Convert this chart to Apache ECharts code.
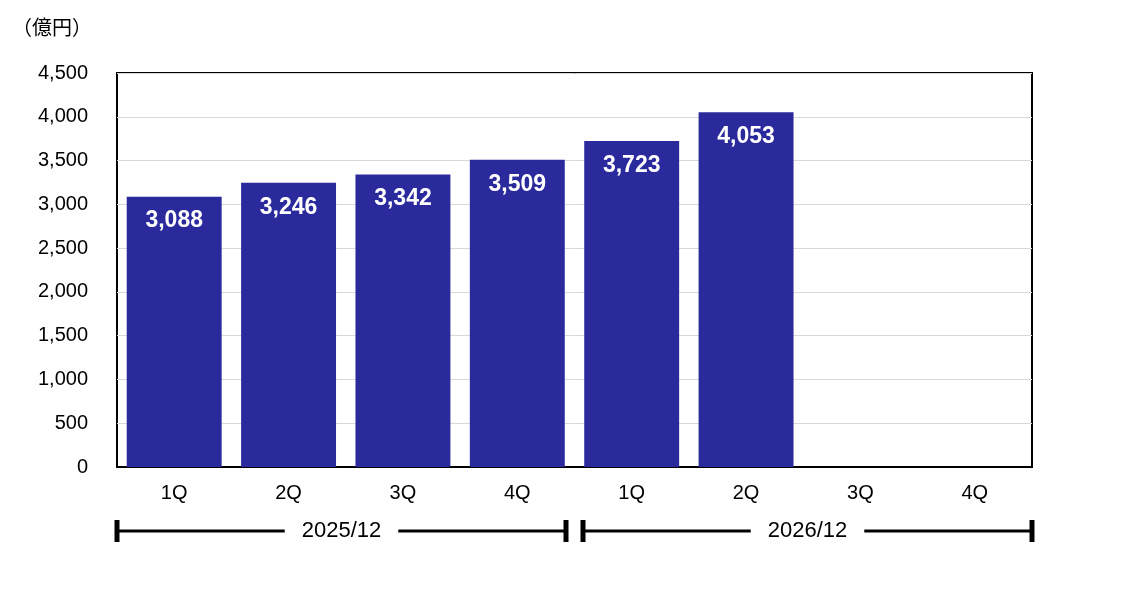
<!DOCTYPE html>
<html>
<head>
<meta charset="utf-8">
<script src="https://cdn.jsdelivr.net/npm/echarts@6/dist/echarts.min.js"></script>
<style>
    html, body { margin: 0; padding: 0; background: #fff; }
    #chart { width: 1134px; height: 591px; }
</style>
</head>
<body>
<div id="chart"></div>
<script>
const quarters = ["1Q", "2Q", "3Q", "4Q", "1Q", "2Q", "3Q", "4Q"];
const sales = [3088, 3246, 3342, 3509, 3723, 4053, null, null];
const fiscalYears = ["2025/12", "2026/12"];
const quartersPerYear = [4, 4];
const yTicks = { min: 0, max: 4500, interval: 500 };
const unitLabel = "（億円）";

const font = "'Liberation Sans', Arial, sans-serif";
const cjkFont = "'Noto Sans CJK JP', 'Liberation Sans', sans-serif";
const barColor = "#2b2a9d";

const chart = echarts.init(document.getElementById("chart"));

chart.setOption({
    animation: false,
    textStyle: { fontFamily: font },
    grid: {
        left: 117,
        right: 102,
        top: 73,
        bottom: 124,
        show: true,
        borderColor: "#000",
        borderWidth: 2
    },
    xAxis: {
        type: "category",
        data: quarters,
        axisTick: { show: false },
        axisLine: { lineStyle: { color: "#000", width: 2 } },
        axisLabel: {
            color: "#000",
            fontSize: 20,
            margin: 16
        }
    },
    yAxis: {
        type: "value",
        min: yTicks.min,
        max: yTicks.max,
        interval: yTicks.interval,
        axisLine: { show: false },
        axisTick: { show: false },
        splitLine: { lineStyle: { color: "#d9d9d9", width: 1 } },
        axisLabel: {
            color: "#000",
            fontSize: 20,
            margin: 29,
            formatter: value => value.toLocaleString("en-US")
        }
    },
    series: [
        {
            type: "bar",
            data: sales,
            barCategoryGap: "17%",
            itemStyle: { color: barColor },
            label: {
                show: true,
                position: "insideTop",
                distance: 13,
                color: "#fff",
                fontSize: 23,
                fontWeight: "bold",
                formatter: params => params.value.toLocaleString("en-US")
            }
        }
    ]
});

// unit label + fiscal year brackets under the quarter labels
function buildGraphics() {
    const first = chart.convertToPixel({ xAxisIndex: 0 }, 0);
    const second = chart.convertToPixel({ xAxisIndex: 0 }, 1);
    const band = second - first;
    const left0 = first - band / 2;
    const y = 531;
    const capH = 22;
    const inset = 8.5;

    const elements = [
        {
            type: "text",
            id: "unit",
            x: 12,
            y: 27,
            style: {
                text: unitLabel,
                fontSize: 20,
                fill: "#000",
                fontFamily: cjkFont,
                verticalAlign: "middle"
            }
        }
    ];

    let start = 0;
    fiscalYears.forEach((year, i) => {
        const end = start + quartersPerYear[i];
        let x1 = left0 + start * band;
        let x2 = left0 + end * band;
        if (i > 0) x1 += inset;
        if (i < fiscalYears.length - 1) x2 -= inset;

        elements.push({
            type: "line",
            id: "line" + i,
            shape: { x1: x1, y1: y, x2: x2, y2: y },
            style: { stroke: "#000", lineWidth: 3 },
            z: 10
        });
        [x1, x2].forEach((x, k) => {
            elements.push({
                type: "rect",
                id: "cap" + i + "_" + k,
                shape: { x: x - 2.5, y: y - capH / 2, width: 5, height: capH },
                style: { fill: "#000" },
                z: 10
            });
        });
        elements.push({
            type: "text",
            id: "year" + i,
            x: (x1 + x2) / 2,
            y: y,
            style: {
                text: year,
                fontSize: 22,
                fontFamily: font,
                fill: "#000",
                align: "center",
                verticalAlign: "middle",
                backgroundColor: "#fff",
                padding: [2, 17]
            },
            z: 11
        });
        start = end;
    });

    return elements;
}

chart.setOption({ graphic: buildGraphics() });
</script>
</body>
</html>
